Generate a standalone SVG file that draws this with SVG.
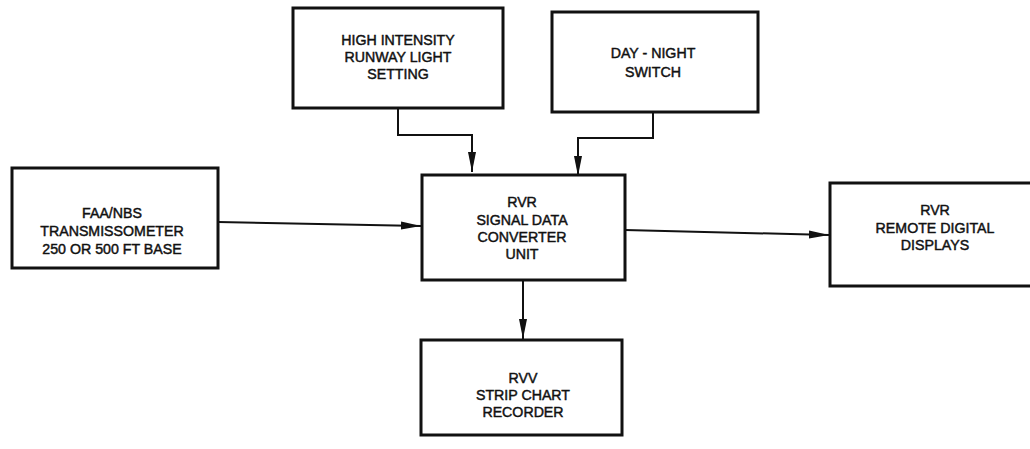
<svg xmlns="http://www.w3.org/2000/svg" width="1030" height="449" viewBox="0 0 1030 449">
<defs>
<style>
.box{fill:#fff;stroke:#111;stroke-width:3}
.lbl{font-family:"Liberation Sans",Arial,sans-serif;font-size:14.2px;font-weight:normal;fill:#111;stroke:#111;stroke-width:0.45;text-anchor:middle}
.conn{fill:none;stroke:#111;stroke-width:2}
</style>
<marker id="arr" viewBox="0 0 20 10" refX="20" refY="5" markerWidth="20" markerHeight="10" markerUnits="userSpaceOnUse" orient="auto">
<path d="M0,1 L20,5 L0,9 Z" fill="#111"/>
</marker>
</defs>
<rect width="1030" height="449" fill="#fff"/>
<g id="connectors">
<path class="conn" d="M398,108 V135 H472 V172" marker-end="url(#arr)"/>
<path class="conn" d="M653,112 V138 H578 V176" marker-end="url(#arr)"/>
<path class="conn" d="M218,222 L421,226" marker-end="url(#arr)"/>
<path class="conn" d="M625,230 L829,235" marker-end="url(#arr)"/>
<path class="conn" d="M523,280 V339" marker-end="url(#arr)"/>
</g>
<g id="node-transmissometer">
<rect class="box" x="12" y="168" width="206" height="100"/>
<text class="lbl" x="112" y="218">FAA/NBS</text>
<text class="lbl" x="112" y="236">TRANSMISSOMETER</text>
<text class="lbl" x="112" y="254">250 OR 500 FT BASE</text>
</g>
<g id="node-runway-light">
<rect class="box" x="293" y="8" width="210" height="100"/>
<text class="lbl" x="398" y="45">HIGH INTENSITY</text>
<text class="lbl" x="398" y="62">RUNWAY LIGHT</text>
<text class="lbl" x="398" y="79">SETTING</text>
</g>
<g id="node-day-night">
<rect class="box" x="552" y="12" width="206" height="100"/>
<text class="lbl" x="653" y="58">DAY - NIGHT</text>
<text class="lbl" x="653" y="77">SWITCH</text>
</g>
<g id="node-converter">
<rect class="box" x="422" y="175" width="203" height="105"/>
<text class="lbl" x="522" y="207">RVR</text>
<text class="lbl" x="522" y="225">SIGNAL DATA</text>
<text class="lbl" x="522" y="242">CONVERTER</text>
<text class="lbl" x="522" y="259">UNIT</text>
</g>
<g id="node-remote-displays">
<rect class="box" x="830" y="183" width="215" height="103"/>
<text class="lbl" x="935" y="215">RVR</text>
<text class="lbl" x="935" y="233">REMOTE DIGITAL</text>
<text class="lbl" x="935" y="250">DISPLAYS</text>
</g>
<g id="node-strip-chart">
<rect class="box" x="421" y="340" width="201" height="95"/>
<text class="lbl" x="523" y="383">RVV</text>
<text class="lbl" x="523" y="400">STRIP CHART</text>
<text class="lbl" x="523" y="417">RECORDER</text>
</g>
</svg>
